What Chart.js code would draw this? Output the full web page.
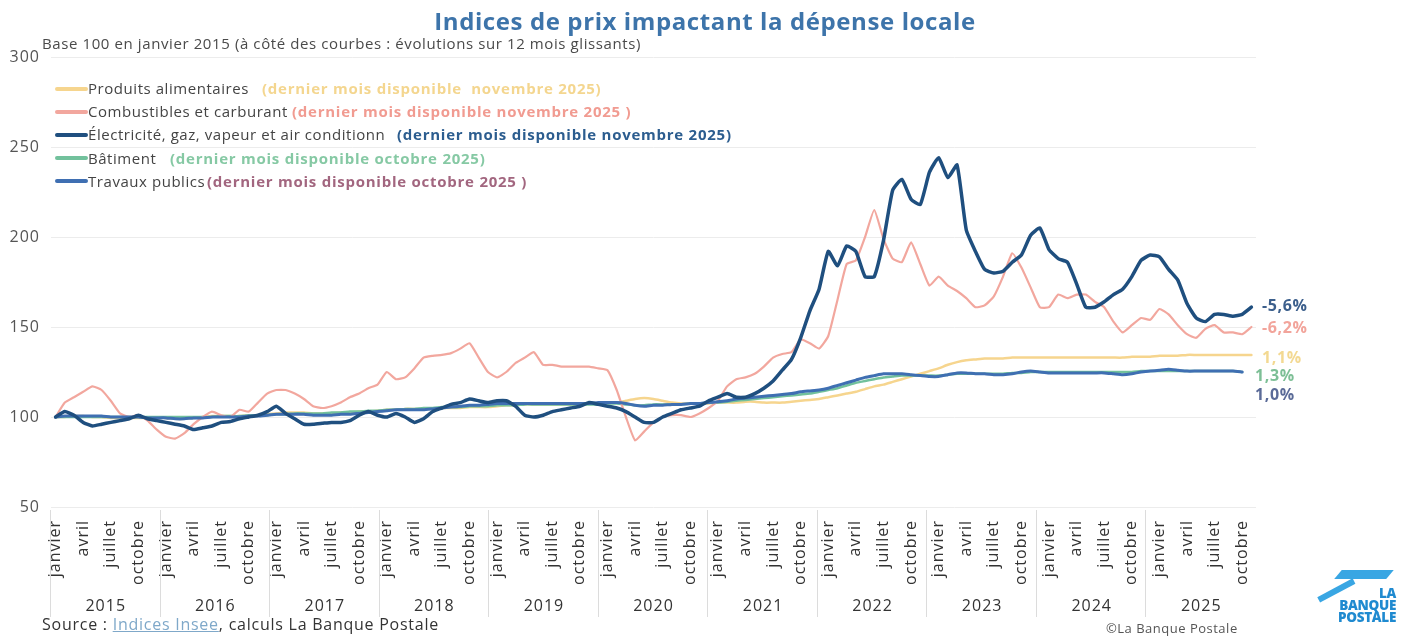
<!DOCTYPE html>
<html lang="fr">
<head>
<meta charset="utf-8">
<title>Indices de prix impactant la dépense locale</title>
<script src="https://cdn.jsdelivr.net/npm/chart.js@4.4.1/dist/chart.umd.min.js"></script>
<style>
  html, body { margin:0; padding:0; background:#fff; }
  #wrap { position:relative; width:1404px; height:638px; overflow:hidden; font-family:'Open Sans', sans-serif; }
  #c { position:absolute; left:0; top:0; }
  .abs { position:absolute; white-space:nowrap; }
  #title { left:0; width:1410px; text-align:center; top:4px; font-size:24px; font-weight:700; color:#3d74aa; letter-spacing:0.6px; }
  #subtitle { left:42px; top:33px; font-size:15px; color:#4a4a4a; letter-spacing:0.6px; }
  #legend { left:55px; top:77px; font-size:15px; color:#444; }
  #legend .row { height:23.2px; line-height:23.2px; display:flex; align-items:center; }
  #legend .sw { display:block; width:33px; height:4px; border-radius:2px; flex:none; }
  #legend .namebox { display:block; flex:none; }
  #legend .name { display:block; overflow:hidden; white-space:nowrap; letter-spacing:0.55px; }
  #legend .note { display:block; font-weight:700; letter-spacing:0.75px; }
  .end { font-size:16px; font-weight:700; letter-spacing:0.6px; }
  #source { left:42px; top:613px; font-size:16px; color:#333; letter-spacing:0.75px; }
  #source .lnk { color:#7fa8c9; text-decoration:underline; }
  #copy { left:1106px; top:619px; font-size:13px; color:#555; letter-spacing:0.5px; }
  #logo { left:1300px; top:565px; width:100px; height:72px; }
  #logo .txt { position:absolute; right:4px; font-weight:800; color:#1f8ad0; font-size:13.5px; line-height:12px; text-align:right; font-family:'Open Sans', sans-serif; letter-spacing:-0.3px; }
</style>
</head>
<body>
<div id="wrap">
  <canvas id="c" width="1404" height="638"></canvas>
  <div id="title" class="abs">Indices de prix impactant la dépense locale</div>
  <div id="subtitle" class="abs">Base 100 en janvier 2015 (à côté des courbes : évolutions sur 12 mois glissants)</div>
  <div id="legend" class="abs"></div>
  <div id="endlabels"></div>
  <div id="source" class="abs">Source : <span class="lnk">Indices Insee</span>, calculs La Banque Postale</div>
  <div id="copy" class="abs">©La Banque Postale</div>
  <div id="logo" class="abs">
    <div style="position:absolute;left:38px;top:5px;width:52px;height:9px;background:#39a6e3;transform:skewX(-40deg);"></div>
    <div style="position:absolute;left:14px;top:13px;width:40px;height:6px;background:#39a6e3;transform:rotate(-28deg);transform-origin:right center;"></div>
    <div class="txt" style="top:22px;">LA</div>
    <div class="txt" style="top:34px;">BANQUE</div>
    <div class="txt" style="top:46px;">POSTALE</div>
  </div>
</div>
<script>
// ---------- data ----------
const monthNames = ['janvier','février','mars','avril','mai','juin','juillet','août','septembre','octobre','novembre','décembre'];
const yearLabels = ['2015','2016','2017','2018','2019','2020','2021','2022','2023','2024','2025'];
const yTicks = [50, 100, 150, 200, 250, 300];

// Produits alimentaires (janv. 2015 - nov. 2025)
const produitsAlimentaires = [
  100,100,100.5,100.5,100,100,99.5,99.5,99.5,99.5,99.5,99.5,
  99.5,99,99,99.5,100,100.5,100.5,100.5,100.5,101,101,101.5,
  102,102.5,102.5,102.5,102,102,102,102.5,102.5,103,103,103.5,
  104,104,104.5,104.5,104.5,104.5,105,105,105,105.5,105.5,105.5,
  106,106.5,106.5,107,107,107,107,107,107,107,107.5,107.5,
  108,108,109,110,110.5,110,109,108,107.5,107.5,107.5,107.5,
  108,108,108,108.5,108.5,108,108,108,108.5,109,109.5,110,
  111,112,113,114,115.5,117,118,119.5,121,122.5,124,125.5,
  127,129,130.5,131.5,132,132.5,132.5,132.5,133,133,133,133,
  133,133,133,133,133,133,133,133,133,133.5,133.5,133.5,
  134,134,134,134.5,134.5,134.5,134.5,134.5,134.5,134.5,134.5
];
// Combustibles et carburant (janv. 2015 - nov. 2025)
const combustibles = [
  100,108,111,114,117,115,109,102,100,101,98,93,
  89,88,91,96,100,103,101,100,104,103,108,113,
  115,115,113,110,106,105,106,108,111,113,116,118,
  125,121,122,127,133,134,134.5,135.5,138,141,133,125,
  122,125,130,133,136,129,129,128,128,128,128,127,
  126,115,100,87,92,97,100,101,101,100,102,105,
  109,117,121,122,124,128,133,135,136,143,141,138,
  145,165,185,187,200,215,199,188,186,197,185,173,
  178,173,170,166,161,162,167,178,191,183,172,161,
  161,168,166,168,168,164,161,153,147,151,155,154,
  160,157,151,146,144,149,151,147,147,146,150
];
// Électricité, gaz, vapeur et air conditionné (janv. 2015 - nov. 2025)
const electricite = [
  100,103,101,97,95,96,97,98,99,101,99,98,
  97,96,95,93,94,95,97,97.5,99,100,101,103,
  106,102,99,96,96,96.5,97,97,98,101,103,101,
  100,102,100,97,99,103,105,107,108,110,109,108,
  109,109,106,101,100,101,103,104,105,106,108,107,
  106,105,103,100,97,97,100,102,104,105,106,109,
  111,113,111,111,113,116,120,126,132,144,159,171,
  192,184,195,192,178,178,198,226,232,221,218,236,
  244,233,240,204,192,182,180,181,186,190,201,205,
  193,188,186,174,161,161,164,168,171,178,187,190,
  189,182,176,163,155,153,157,157,156,157,161
];
// Bâtiment (janv. 2015 - oct. 2025)
const batiment = [
  100,100,100,100,100,100,100,100,100,100,100,100,
  100,100,100,100,100,100,100.5,100.5,100.5,101,101,101,
  101.5,101.5,102,102,102,102,102.5,102.5,103,103,103.5,103.5,
  104,104,104.5,104.5,105,105,105.5,105.5,105.5,106,106,106,
  106.5,106.5,106.5,107,107,107,107,107,107,107,107,107,
  107.5,107.5,107,106.5,106.5,107,107,107,107,107.5,107.5,108,
  108,108.5,109,109.5,110,110.5,111,111.5,112,112.5,113,114,
  115,116,117.5,119,120,121,122,122.5,123,123,123,123,
  123,123.5,124,124,124,124,124,124,124.5,124.5,125,125,
  125,125,125,125,125,125,125,125,125,125,125.5,125.5,
  125.5,125.5,125.5,125.5,125.5,125.5,125.5,125.5,125.5,125
];
// Travaux publics (janv. 2015 - oct. 2025)
const travauxPublics = [
  100,100.5,100.5,100.5,100.5,100.5,100,100,100,100,99.5,99.5,
  99.5,99,99,99.5,99.5,100,100,100,100,100.5,100.5,101,
  101.5,101.5,101.5,101.5,101,101,101,101.5,101.5,102,102.5,103,
  103.5,104,104,104,104,104.5,105,105.5,106,106.5,106.5,107,
  107.5,107.5,107.5,107.5,107.5,107.5,107.5,107.5,107.5,107.5,107.5,108,
  108,108,107.5,106.5,106,106.5,106.5,107,107,107.5,107.5,108,
  108.5,109,110,110.5,111,111.5,112,112.5,113,114,114.5,115,
  116,117.5,119,120.5,122,123,124,124,124,123.5,123,122.5,
  122.5,123.5,124.5,124.5,124,124,123.5,123.5,124,125,125.5,125,
  124.5,124.5,124.5,124.5,124.5,124.5,124.5,124,123.5,124,125,125.5,
  126,126.5,126,125.5,125.5,125.5,125.5,125.5,125.5,125
];
const seriesNames = ['Produits alimentaires','Combustibles et carburant','Électricité, gaz, vapeur et air conditionné','Bâtiment','Travaux publics'];
const seriesNotes = ['(dernier mois disponible\u00a0 novembre 2025)','(dernier mois disponible novembre 2025 )','(dernier mois disponible novembre 2025)','(dernier mois disponible octobre 2025)','(dernier mois disponible octobre 2025 )'];
const evolutions12m = ['1,1%','-6,2%','-5,6%','1,3%','1,0%'];

// ---------- styles ----------
const lineColors = ['#f6d58e','#f2a79e','#1f4f7f','#72c19c','#3f6fb2'];
const noteColors = ['#f4d68f','#f19b91','#2c5d8f','#86c9a4','#a2667f'];
const endColors  = ['#f3d992','#f2a49b','#3c5f8c','#7dbf96','#5b6b98'];
const lineWidths = [2.5, 2.2, 3.5, 2.5, 3];
const drawOrder  = [5, 3, 1, 4, 2];
const nameBoxWidths = [174, 204, 309, 82, 119];
const nameClipWidths = [174, 204, 298, 82, 119];

const labels = [];
for (let i = 0; i < electricite.length; i++) labels.push(monthNames[i % 12]);

const seriesData = [produitsAlimentaires, combustibles, electricite, batiment, travauxPublics];

// ---------- HTML legend & end labels ----------
const legend = document.getElementById('legend');
seriesNames.forEach((n, k) => {
  const row = document.createElement('div');
  row.className = 'row';
  row.innerHTML = '<span class="sw" style="background:' + lineColors[k] + '"></span>' +
    '<span class="namebox" style="width:' + nameBoxWidths[k] + 'px"><span class="name" style="width:' + nameClipWidths[k] + 'px">' + n + '</span></span>' +
    '<span class="note" style="color:' + noteColors[k] + '">' + seriesNotes[k] + '</span>';
  legend.appendChild(row);
});
const endPos = [[1262, 346], [1262, 316], [1262, 294], [1255, 364], [1255, 383]];
const endWrap = document.getElementById('endlabels');
evolutions12m.forEach((t, k) => {
  const d = document.createElement('div');
  d.className = 'abs end';
  d.style.left = endPos[k][0] + 'px';
  d.style.top = endPos[k][1] + 'px';
  d.style.color = endColors[k];
  d.textContent = t;
  endWrap.appendChild(d);
});

// ---------- canvas text spacing + year separators ----------
const textSpacing = {
  id: 'textSpacing',
  beforeDraw(chart) { chart.ctx.letterSpacing = '1px'; }
};
const yearSeparators = {
  id: 'yearSeparators',
  afterDraw(chart) {
    const s = chart.scales.x2;
    const ctx = chart.ctx;
    const n = yearLabels.length;
    const step = (s.right - s.left) / n;
    ctx.save();
    ctx.strokeStyle = '#dcdcdc';
    ctx.lineWidth = 1;
    for (let k = 0; k < n; k++) {
      const x = Math.round(s.getPixelForTick(k) - step / 2) - 0.5;
      ctx.beginPath();
      ctx.moveTo(x, chart.chartArea.bottom + 3);
      ctx.lineTo(x, s.bottom - 2);
      ctx.stroke();
    }
    ctx.restore();
  }
};

Chart.defaults.font.family = "'Open Sans', sans-serif";

new Chart(document.getElementById('c'), {
  type: 'line',
  data: {
    labels: labels,
    datasets: seriesData.map((d, k) => ({
      label: seriesNames[k],
      data: d,
      borderColor: lineColors[k],
      backgroundColor: lineColors[k],
      borderWidth: lineWidths[k],
      pointRadius: 0,
      tension: 0.15,
      fill: false,
      order: drawOrder[k],
      borderJoinStyle: 'round',
      borderCapStyle: 'round'
    }))
  },
  options: {
    responsive: false,
    animation: false,
    devicePixelRatio: 1,
    layout: { padding: { top: 57, right: 148, bottom: 19, left: 0 } },
    plugins: { legend: { display: false }, tooltip: { enabled: false }, title: { display: false } },
    scales: {
      x: {
        type: 'category',
        position: 'bottom',
        offset: true,
        weight: 0,
        grid: { display: false },
        border: { display: false },
        ticks: {
          autoSkip: false,
          maxRotation: 90,
          minRotation: 90,
          padding: 5,
          color: '#333',
          font: { size: 16 },
          callback: function (value, index) { return index % 3 === 0 ? this.getLabelForValue(value) : ''; }
        },
        afterFit(s) { s.height = 80; }
      },
      x2: {
        type: 'category',
        labels: yearLabels,
        position: 'bottom',
        offset: true,
        weight: 1,
        grid: { display: false },
        border: { display: false },
        ticks: { autoSkip: false, maxRotation: 0, minRotation: 0, padding: 2, color: '#333', font: { size: 16 } },
        afterFit(s) { s.height = 32; }
      },
      y: {
        min: 50,
        max: 300,
        afterBuildTicks(s) { s.ticks = yTicks.map(v => ({ value: v })); },
        grid: { color: '#ececec', lineWidth: 1, drawTicks: false },
        border: { display: false },
        ticks: { padding: 11, color: '#555', font: { size: 16 } },
        afterFit(s) { s.width = 51; }
      }
    }
  },
  plugins: [textSpacing, yearSeparators]
});
</script>
</body>
</html>
